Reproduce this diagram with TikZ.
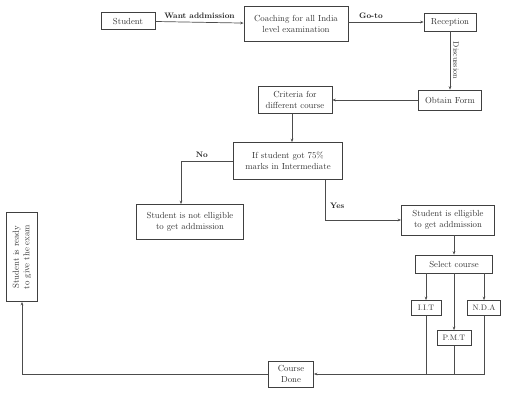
\documentclass[tikz,border=0pt]{standalone}
\usepackage{tikz}
\usetikzlibrary{arrows.meta, positioning}
\tikzset{
	stepbox/.style={draw=black!75, line width=.8pt, fill=white, align=center, inner sep=1.5pt, text=black!80},
	flow/.style={draw=black!70, line width=.8pt, -{Stealth[length=4pt,width=3pt]}},
	flowline/.style={draw=black!70, line width=.8pt},
	tag/.style={font=\bfseries\small, text=black!85}
}

\begin{document}
\begin{tikzpicture}[x=0.04cm, y=-0.04cm]
\useasboundingbox (0,0) rectangle (512,402);
% boxes
\node [stepbox, minimum width=54*0.04cm, minimum height=17*0.04cm] (student) at (128,21) {Student};
\node [stepbox, minimum width=104*0.04cm, minimum height=35*0.04cm] (coaching) at (296,24) {Coaching for all India\\level examination};
\node [stepbox, minimum width=52*0.04cm, minimum height=18*0.04cm] (reception) at (450,22) {Reception};
\node [stepbox, minimum width=63*0.04cm, minimum height=20*0.04cm] (form) at (450,100) {Obtain Form};
\node [stepbox, minimum width=74*0.04cm, minimum height=27*0.04cm] (criteria) at (295,100) {Criteria for\\different course};
\node [stepbox, minimum width=109*0.04cm, minimum height=37*0.04cm] (check) at (288,161) {If student got 75\%\\marks in Intermediate};
\node [stepbox, minimum width=107*0.04cm, minimum height=35*0.04cm] (notelig) at (190,222) {Student is not elligible\\to get addmission};
\node [stepbox, minimum width=93*0.04cm, minimum height=30*0.04cm] (elig) at (448,220) {Student is elligible\\to get addmission};
\node [stepbox, minimum width=77*0.04cm, minimum height=18*0.04cm] (select) at (454,264) {Select course};
\node [stepbox, minimum width=30*0.04cm, minimum height=15*0.04cm, font=\small] (iit) at (426,308) {I.I.T};
\node [stepbox, minimum width=34*0.04cm, minimum height=15*0.04cm, font=\small] (pmt) at (454,338) {P.M.T};
\node [stepbox, minimum width=33*0.04cm, minimum height=15*0.04cm, font=\small] (nda) at (484,308) {N.D.A};
\node [stepbox, minimum width=45*0.04cm, minimum height=26*0.04cm] (done) at (291,374) {Course\\Done};
\node [stepbox, rotate=90, minimum width=89*0.04cm, minimum height=31*0.04cm] (ready) at (22,257) {Student is ready\\to give the exam};
% connectors
\draw [flow] (student) -- node [tag, above] {Want addmission} (coaching);
\draw [flow] (coaching.east |- reception) -- node [tag, above, pos=.3] {Go-to} (reception);
\draw [flow] (reception) -- node [rotate=-90, anchor=south, font=\small, text=black!80] {Discussion} (form);
\draw [flow] (form) -- (criteria);
\draw [flow] (criteria.south -| 292,0) -- (check.north -| 292,0);
\draw [flow] (check.west) -| node [tag, above, pos=.3] {No} (notelig.north -| 181,0);
\draw [flow] (check.south -| 325,0) |- node [tag, right, pos=.32, xshift=2pt] {Yes} (elig.west);
\draw [flow] (elig.south -| select.north) -- (select);
\draw [flow] (select.south -| iit.north) -- (iit);
\draw [flow] (select.south -| pmt.north) -- (pmt);
\draw [flow] (select.south -| nda.north) -- (nda);
\draw [flowline] (iit) -- (iit.south |- done.east);
\draw [flowline] (pmt) -- (pmt.south |- done.east);
\draw [flow] (nda) |- (done.east);
\draw [flow] (done.west) -| (ready.west);
\end{tikzpicture}
\end{document}
